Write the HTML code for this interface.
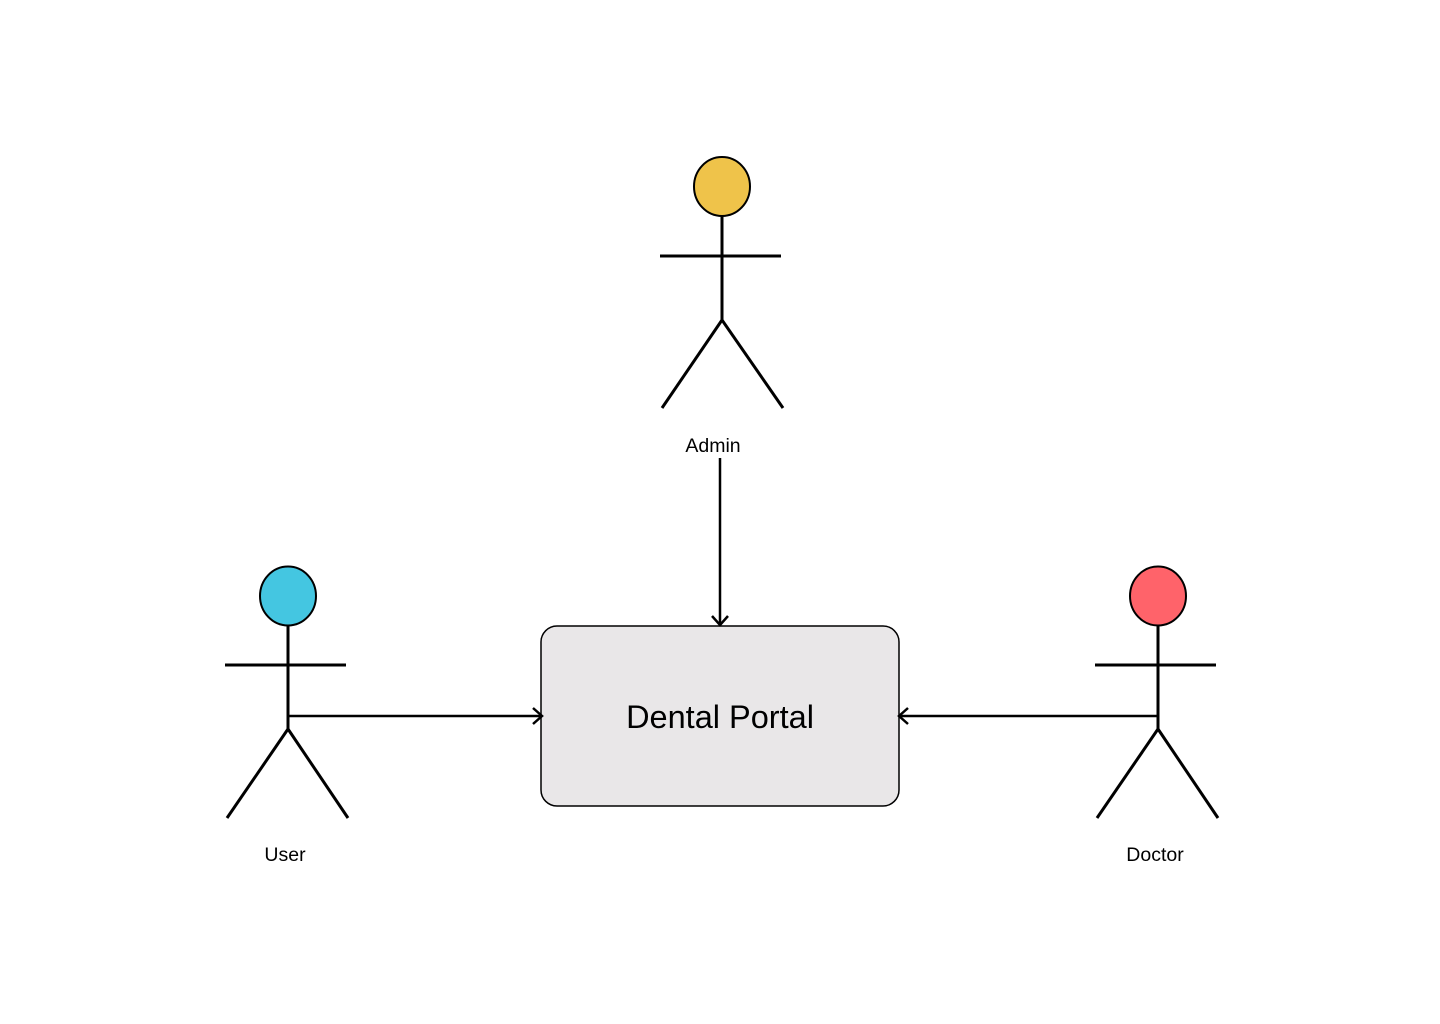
<!DOCTYPE html>
<html><head><meta charset="utf-8"><style>
html,body{margin:0;padding:0;background:#fff;width:1440px;height:1024px;overflow:hidden}
</style></head><body>
<svg width="1440" height="1024" viewBox="0 0 1440 1024" xmlns="http://www.w3.org/2000/svg" font-family="Liberation Sans, sans-serif">
<g stroke="#000" stroke-width="3" fill="none">
<line x1="722" y1="216" x2="722" y2="320"/>
<line x1="660" y1="256" x2="781" y2="256"/>
<line x1="722" y1="320" x2="662" y2="408"/>
<line x1="722" y1="320" x2="783" y2="408"/>
<line x1="288" y1="626" x2="288" y2="729"/>
<line x1="225" y1="665" x2="346" y2="665"/>
<line x1="288" y1="729" x2="227" y2="818"/>
<line x1="288" y1="729" x2="348" y2="818"/>
<line x1="1158" y1="626" x2="1158" y2="729"/>
<line x1="1095" y1="665" x2="1216" y2="665"/>
<line x1="1158" y1="729" x2="1097" y2="818"/>
<line x1="1158" y1="729" x2="1218" y2="818"/>
</g>
<g stroke="#000" stroke-width="2">
<ellipse cx="722" cy="186.5" rx="28" ry="29.5" fill="#efc34a"/>
<ellipse cx="288" cy="596" rx="28" ry="29.5" fill="#44c6e1"/>
<ellipse cx="1158" cy="596" rx="28" ry="29.5" fill="#ff636a"/>
<rect x="541" y="626" width="358" height="180" rx="16" fill="#e9e7e8" stroke-width="1.5"/>
</g>
<g stroke="#000" stroke-width="2.5" fill="none">
<line x1="720" y1="458" x2="720" y2="624"/>
<polyline points="712,616 720,625 728,616"/>
<line x1="288" y1="716" x2="541" y2="716"/>
<polyline points="533,708 542,716 533,724"/>
<line x1="1158" y1="716" x2="900" y2="716"/>
<polyline points="908,708 899,716 908,724"/>
</g>
<g font-size="19.5" text-anchor="middle" fill="#000">
<text x="713" y="452">Admin</text>
<text x="285" y="861">User</text>
<text x="1155" y="861">Doctor</text>
</g>
<text x="720" y="728" font-size="32.5" text-anchor="middle" fill="#000">Dental Portal</text>
</svg>
</body></html>
